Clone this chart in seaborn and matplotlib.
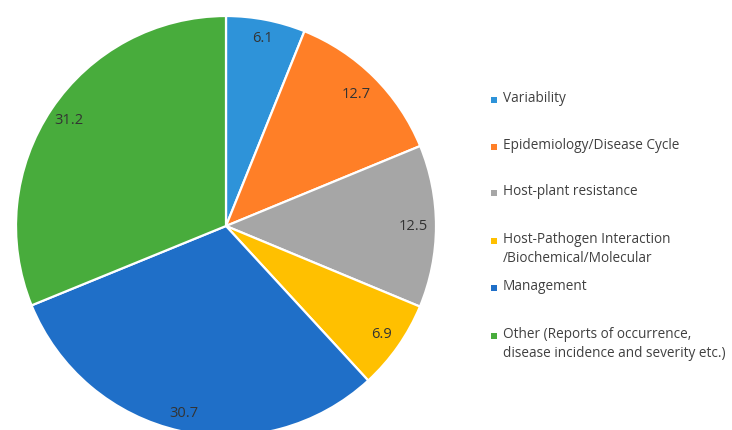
import numpy as np
import matplotlib
matplotlib.use("Agg")
import matplotlib.pyplot as plt
import seaborn as sns

sns.set_theme(style="white")
plt.rcParams['font.family'] = ['Open Sans', 'DejaVu Sans']

categories = [
    "Variability",
    "Epidemiology/Disease Cycle",
    "Host-plant resistance",
    "Host-Pathogen Interaction\n/Biochemical/Molecular",
    "Management",
    "Other (Reports of occurrence,\ndisease incidence and severity etc.)",
]
values = [6.1, 12.7, 12.5, 6.9, 30.7, 31.2]
colors = ["#2E93D9", "#FF7F27", "#A6A6A6", "#FFC000", "#1F6FC8", "#48AC3C"]
label_radius = [0.91, 0.88, 0.89, 0.905, 0.915, 0.90]

fig = plt.figure(figsize=(7.32, 4.30), dpi=100)
ax = fig.add_axes([16/732, -6/430, 420/732, 420/430])

wedges, _ = ax.pie(values, colors=colors, startangle=90, counterclock=False,
                   radius=1.0,
                   wedgeprops=dict(edgecolor="white", linewidth=1.6))
ax.set_xlim(-1, 1)
ax.set_ylim(-1, 1)
ax.set_aspect("equal")

for w, v, r in zip(wedges, values, label_radius):
    ang = np.deg2rad((w.theta1 + w.theta2) / 2)
    ax.text(r * np.cos(ang), r * np.sin(ang), f"{v}", ha="center", va="center",
            fontsize=10.5, color="#333333")

# legend
lax = fig.add_axes([0, 0, 1, 1])
lax.set_xlim(0, 732)
lax.set_ylim(430, 0)
lax.axis("off")
ys = [100, 147, 193, 241, 288, 336]
for y, c, t in zip(ys, colors, categories):
    lax.add_patch(plt.Rectangle((491, y - 3), 6, 6, color=c, lw=0))
    lax.text(503, y - 9, t, ha="left", va="top", fontsize=9.8, color="#404040",
             linespacing=1.35)

fig.savefig("out.png", dpi=100)
